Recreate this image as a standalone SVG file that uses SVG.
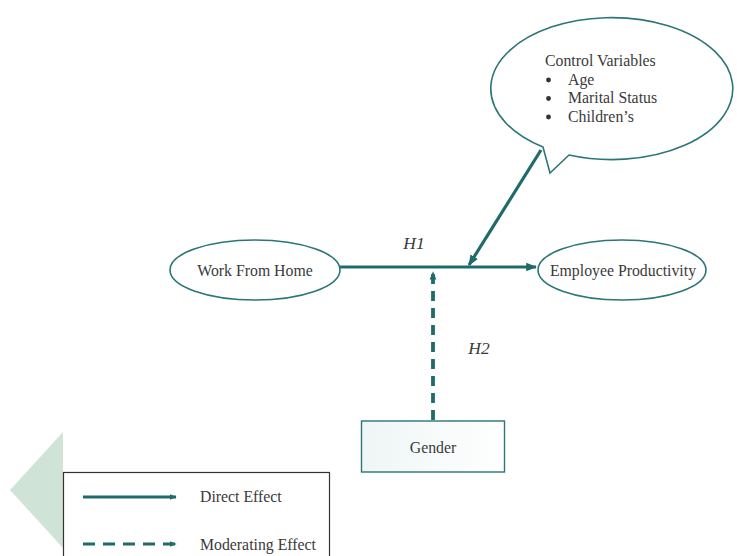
<svg xmlns="http://www.w3.org/2000/svg" width="737" height="556" viewBox="0 0 737 556">
<defs>
<style>
.t{font-family:"Liberation Serif","Times New Roman",serif;fill:#3a3a3a;font-size:15.8px;}
.node{fill:#fff;stroke:#2b7676;stroke-width:1.6;}
.conn{stroke:#1f6a6a;stroke-width:3.2;fill:none;}
.dash{stroke-dasharray:10,7;stroke-width:3.8;}
</style>
<marker id="ah" viewBox="0 0 10 10" refX="9" refY="5" markerWidth="3.4" markerHeight="3.4" orient="auto" markerUnits="strokeWidth">
<path d="M0,1 L10,5 L0,9 z" fill="#1f6a6a"/>
</marker>
<marker id="ahs" viewBox="0 0 10 10" refX="9" refY="5" markerWidth="2.2" markerHeight="2.2" orient="auto" markerUnits="strokeWidth">
<path d="M0,1 L10,5 L0,9 z" fill="#1f6a6a"/>
</marker>
<linearGradient id="gb" x1="0" y1="0" x2="1" y2="0">
<stop offset="0" stop-color="#eef6f5"/>
<stop offset="1" stop-color="#ffffff"/>
</linearGradient>
</defs>
<rect width="737" height="556" fill="#fff"/>
<polygon points="10,490 63,432 63,548" fill="#cfe4d7"/>

<g id="connectors">
<line class="conn" x1="340" y1="267" x2="536" y2="267" marker-end="url(#ah)"/>
<line class="conn" x1="541" y1="150" x2="469" y2="265" marker-end="url(#ah)" stroke-width="2.6"/>
<line class="conn dash" x1="433" y1="420" x2="433" y2="272" marker-end="url(#ahs)"/>
</g>

<g id="control">
<path class="node" d="M543,147 A121,71 0 1 1 569,155 L550,173 Z"/>
<text class="t" x="545" y="66">Control Variables</text>
<circle cx="548.5" cy="80" r="2.4" fill="#333"/>
<circle cx="548.5" cy="98.5" r="2.4" fill="#333"/>
<circle cx="548.5" cy="117" r="2.4" fill="#333"/>
<text class="t" x="568" y="84.5">Age</text>
<text class="t" x="568" y="103">Marital Status</text>
<text class="t" x="568" y="121.5">Children’s</text>
</g>

<g id="wfh">
<ellipse class="node" cx="255" cy="270" rx="85" ry="30"/>
<text class="t" x="255" y="275.5" text-anchor="middle">Work From Home</text>
</g>

<g id="ep">
<ellipse class="node" cx="622" cy="270" rx="84" ry="30"/>
<text class="t" x="623" y="275.5" text-anchor="middle">Employee Productivity</text>
</g>

<g id="gender">
<rect x="361.5" y="421" width="143" height="51" fill="url(#gb)" stroke="#2b7676" stroke-width="1.4"/>
<text class="t" x="433" y="452.5" text-anchor="middle">Gender</text>
</g>

<g id="labels">
<text class="t" x="414" y="249" style="font-size:17.5px" font-style="italic" text-anchor="middle">H1</text>
<text class="t" x="479" y="354" style="font-size:17.5px" font-style="italic" text-anchor="middle">H2</text>
</g>

<g id="legend">
<rect x="63.5" y="472.5" width="266" height="90" fill="#fff" stroke="#333" stroke-width="1.2"/>
<line class="conn" x1="83" y1="497" x2="176" y2="497" marker-end="url(#ahs)"/>
<text class="t" x="200" y="501.5">Direct Effect</text>
<line class="conn dash" x1="83" y1="544" x2="176" y2="544" style="stroke-dasharray:12,8;stroke-width:3.2" marker-end="url(#ahs)"/>
<text class="t" x="200" y="549.5">Moderating  Effect</text>
</g>
</svg>
